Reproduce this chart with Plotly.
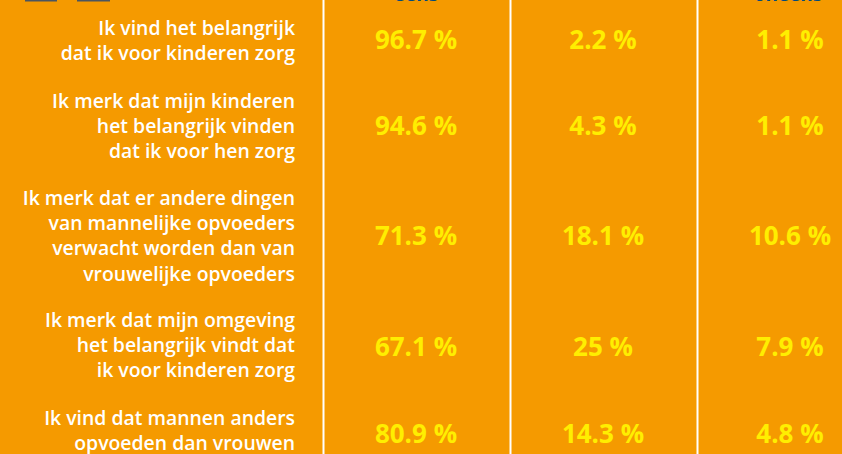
import plotly.graph_objects as go

statements = [
    "Ik vind het belangrijk<br>dat ik voor kinderen zorg",
    "Ik merk dat mijn kinderen<br>het belangrijk vinden<br>dat ik voor hen zorg",
    "Ik merk dat er andere dingen<br>van mannelijke opvoeders<br>verwacht worden dan van<br>vrouwelijke opvoeders",
    "Ik merk dat mijn omgeving<br>het belangrijk vindt dat<br>ik voor kinderen zorg",
    "Ik vind dat mannen anders<br>opvoeden dan vrouwen",
]
eens = [96.7, 94.6, 71.3, 67.1, 80.9]
neutraal = [2.2, 4.3, 18.1, 25, 14.3]
oneens = [1.1, 1.1, 10.6, 7.9, 4.8]
row_centers = [42, 128, 238, 349, 436]
label_centers = [43, 128, 238, 347, 433]
col_centers = [416, 603, 790]
header_centers = [416, 603, 788]
headers = ["eens", "", "oneens"]
separators = [323.5, 510.5, 697.5]
icon_spans = [(25, 57), (77, 110)]

FONT = "Open Sans, Noto Sans, sans-serif"
ORANGE = "#F59A00"
YELLOW = "#FFEE00"

fig = go.Figure()
for cx, series in zip(col_centers, [eens, neutraal, oneens]):
    fig.add_trace(go.Scatter(
        x=[cx] * len(series), y=row_centers, mode="text",
        text=[f"{v:g} %" for v in series], textposition="middle center",
        textfont=dict(family=FONT, size=26, color=YELLOW, weight=700),
        hoverinfo="skip", showlegend=False))
fig.add_trace(go.Scatter(
    x=[295] * len(statements), y=label_centers, mode="text",
    text=statements, textposition="middle left",
    textfont=dict(family=FONT, size=19.4, color="#FFFFFF", weight=600),
    hoverinfo="skip", showlegend=False))
fig.add_trace(go.Scatter(
    x=header_centers, y=[-3.5] * 3, mode="text", text=headers,
    textposition="middle center",
    textfont=dict(family=FONT, size=19, color="#004A7C", weight=700),
    hoverinfo="skip", showlegend=False))
for sx in separators:
    fig.add_shape(type="line", x0=sx, x1=sx, y0=0, y1=454, xref="x", yref="y",
                  line=dict(color="#FFFFFF", width=2), layer="below")
for x0, x1 in icon_spans:
    fig.add_shape(type="rect", x0=x0, x1=x1, y0=0, y1=1.5, xref="x", yref="y",
                  line=dict(width=0), fillcolor="#4A5560", layer="below")

fig.update_layout(
    width=842, height=454, margin=dict(l=0, r=0, t=0, b=0),
    paper_bgcolor=ORANGE, plot_bgcolor=ORANGE,
    xaxis=dict(range=[0, 842], visible=False, fixedrange=True),
    yaxis=dict(range=[454, 0], visible=False, fixedrange=True),
)
fig.write_html("out.html", config={"displayModeBar": False},
               post_script="document.body.style.margin='0';document.body.style.overflow='hidden';")
